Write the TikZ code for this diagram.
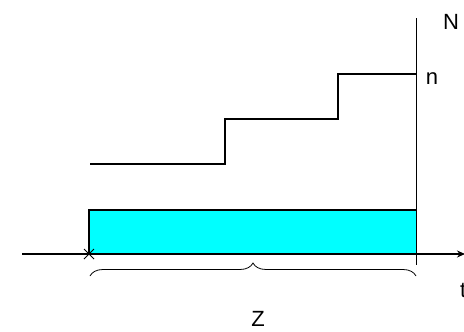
\documentclass[tikz,border=0pt]{standalone}
\usepackage{fontspec}
\setmainfont{Liberation Sans}
\usetikzlibrary{decorations.pathreplacing,arrows.meta}
\definecolor{aqua}{RGB}{0,255,255}
\begin{document}
\begin{tikzpicture}[x=1pt,y=-1pt,
  lbl/.style={inner sep=0pt,font=\fontsize{22}{24}\selectfont},
  thin line/.style={line width=0.8pt},
  thick line/.style={line width=1.4pt}]
\useasboundingbox (0,0) rectangle (464,332);
% named coordinates
\coordinate (axL) at (22,254);
\coordinate (axR) at (465,254);
\coordinate (vT) at (416,18);
\coordinate (vB) at (416,265);
\coordinate (o) at (89,254);
\coordinate (rTL) at (89,210);
\coordinate (rBR) at (416,254);
% cyan box
\fill[aqua] (rTL) rectangle (rBR);
\draw[thick line] (o) -- (rTL) -- (416,210);
% axes
\draw[thick line,-{Stealth[length=8pt,width=7pt]}] (axL) -- (axR);
\draw[thin line] (vT) -- (vB);
% cross
\draw[line width=1pt] (84,249) -- (94,259) (84,259) -- (94,249);
% staircase
\coordinate (s0) at (90,164);
\coordinate (s3) at (416,74);
\draw[thick line] (s0) -- (225,164) -- (225,119) -- (338,119) -- (338,74) -- (s3);
% brace
\coordinate (bL) at (90,276);
\coordinate (bR) at (416,276);
\draw[line width=0.8pt,decorate,decoration={brace,mirror,amplitude=13pt,aspect=0.5}] (bR) -- (bL);
% labels
\node[lbl] (Z) at (258,319) {Z};
\node[lbl] (N) at (451,22) {N};
\node[lbl] (n) at (432,79) {n};
\node[lbl,anchor=west] (t) at (460,290) {t};
\end{tikzpicture}
\end{document}
